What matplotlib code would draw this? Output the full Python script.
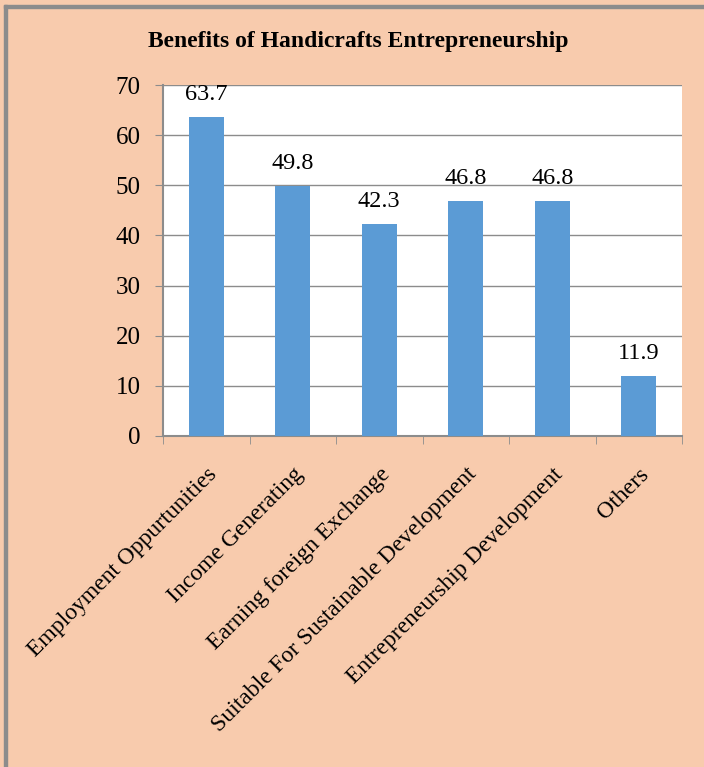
import numpy as np
import matplotlib.pyplot as plt
from matplotlib.patches import Rectangle

categories = ["Employment Oppurtunities", "Income Generating", "Earning foreign Exchange",
              "Suitable For Sustainable Development", "Entrepreneurship Development", "Others"]
values = [63.7, 49.8, 42.3, 46.8, 46.8, 11.9]

plt.rcParams['font.family'] = ['Liberation Serif', 'DejaVu Serif']

fig = plt.figure(figsize=(7.04, 7.67), dpi=100, facecolor='#F8CBAD')
# gray frame on the left and top edges
fig.patches.append(Rectangle((0.006, 0), 0.004, 0.994, transform=fig.transFigure,
                             color='#8c8c8c', zorder=0))
fig.patches.append(Rectangle((0.006, 0.990), 0.994, 0.004, transform=fig.transFigure,
                             color='#8c8c8c', zorder=0))

ax = fig.add_axes([163/704, 1-436/767, (682-163)/704, (436-85)/767])
ax.set_facecolor('white')

x = np.arange(len(categories))
ax.bar(x, values, width=0.4, color='#5B9BD5', zorder=3)
for xi, v in zip(x, values):
    ax.text(xi, v + 2.4, f"{v:.1f}", ha='center', va='bottom', fontsize=17.5)

ax.set_xlim(-0.5, len(categories) - 0.5)
ax.set_ylim(0, 70)
ax.set_yticks(range(0, 71, 10))
ax.yaxis.grid(True, color='#8c8c8c', linewidth=1, zorder=0)
ax.tick_params(axis='y', labelsize=18, length=6, color='#8c8c8c', pad=10)

ax.set_xticks(x)
ax.set_xticklabels(categories, rotation=45, ha='right', rotation_mode='anchor', fontsize=17)
ax.tick_params(axis='x', length=0, pad=20)
ax.set_xticks(np.arange(-0.5, len(categories), 1), minor=True)
ax.tick_params(axis='x', which='minor', length=6, color='#8c8c8c')

for side in ['top', 'right']:
    ax.spines[side].set_visible(False)
for side in ['left', 'bottom']:
    ax.spines[side].set_color('#8c8c8c')
    ax.spines[side].set_linewidth(1.5)

fig.text(358/704, 1-41/767, "Benefits of Handicrafts Entrepreneurship",
         ha='center', va='center', fontsize=17, fontweight='bold')

fig.savefig('out.png', dpi=100, facecolor=fig.get_facecolor())
